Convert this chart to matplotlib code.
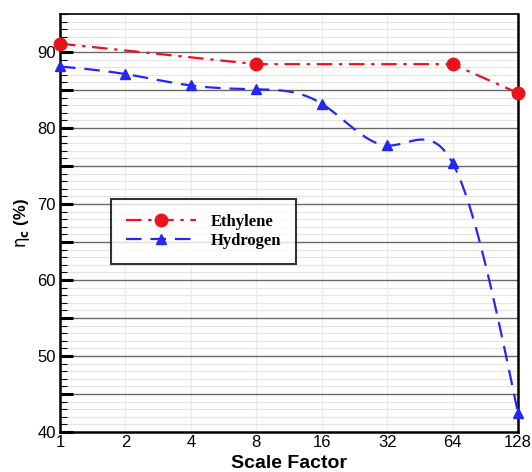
import numpy as np
import matplotlib
matplotlib.use("Agg")
import matplotlib.pyplot as plt
from matplotlib.ticker import FixedLocator, FuncFormatter, NullFormatter, NullLocator

# Scale factors and combustion efficiency (%)
scale_ticks = [1, 2, 4, 8, 16, 32, 64, 128]
ethylene_scale = [1, 8, 64, 128]
ethylene_eta = [91.1, 88.4, 88.4, 84.6]
hydrogen_scale = [1, 2, 4, 8, 16, 32, 64, 128]
hydrogen_eta = [88.1, 87.1, 85.6, 85.1, 83.2, 77.7, 75.4, 42.5]


def natural_spline(x, y, n=400):
    """Natural cubic spline through (x, y), evaluated on a fine grid."""
    x = np.asarray(x, float)
    y = np.asarray(y, float)
    m = len(x)
    h = np.diff(x)
    A = np.zeros((m, m))
    b = np.zeros(m)
    A[0, 0] = A[-1, -1] = 1.0
    for i in range(1, m - 1):
        A[i, i - 1] = h[i - 1]
        A[i, i] = 2 * (h[i - 1] + h[i])
        A[i, i + 1] = h[i]
        b[i] = 6 * ((y[i + 1] - y[i]) / h[i] - (y[i] - y[i - 1]) / h[i - 1])
    M = np.linalg.solve(A, b)
    xs = np.linspace(x[0], x[-1], n)
    idx = np.clip(np.searchsorted(x, xs) - 1, 0, m - 2)
    x0, x1 = x[idx], x[idx + 1]
    hh = x1 - x0
    a = (x1 - xs) / hh
    c = (xs - x0) / hh
    ys = (a * y[idx] + c * y[idx + 1]
          + ((a ** 3 - a) * M[idx] + (c ** 3 - c) * M[idx + 1]) * hh ** 2 / 6)
    return xs, ys


fig = plt.figure(figsize=(5.32, 4.72), dpi=100)
ax = fig.add_axes([0.1128, 0.0847, 0.8609, 0.8856])

red = "#e8141c"
blue = "#2626f5"

# Ethylene: straight dash-dot segments
ax.plot(ethylene_scale, ethylene_eta, color=red, lw=1.6,
        dashes=[7, 3, 1.5, 3], marker="o", ms=9, clip_on=False,
        zorder=5, label="Ethylene")

# Hydrogen: smooth curve through the points (spline in log2 space)
lx, ly = natural_spline(np.log2(hydrogen_scale), hydrogen_eta)
ax.plot(2 ** lx, ly, color=blue, lw=1.6, dashes=[7, 4], clip_on=False,
        zorder=4)
ax.plot(hydrogen_scale, hydrogen_eta, ls="none", color=blue, marker="^",
        ms=7, clip_on=False, zorder=5)
# legend proxy
ax.plot([], [], color=blue, lw=1.6, dashes=[7, 4], marker="^", ms=7,
        label="Hydrogen")

ax.set_xscale("log", base=2)
ax.set_xlim(1, 128)
ax.set_ylim(40, 95)

ax.xaxis.set_major_locator(FixedLocator(scale_ticks))
ax.set_xticklabels([str(s) for s in scale_ticks])
ax.xaxis.set_minor_locator(NullLocator())
ax.xaxis.set_minor_formatter(NullFormatter())

ax.yaxis.set_major_locator(FixedLocator(np.arange(40, 95, 5)))
ax.yaxis.set_major_formatter(
    FuncFormatter(lambda v, p: f"{v:.0f}" if round(v) % 10 == 0 else ""))
ax.yaxis.set_minor_locator(FixedLocator(np.arange(40, 96, 1)))

# grid: dark lines every 5, faint every 1, faint verticals
for yv in np.arange(45, 95, 5):
    ax.axhline(yv, color="#6a6a6a", lw=1.0, zorder=1)
for yv in np.arange(41, 95, 1):
    if yv % 5:
        ax.axhline(yv, color="#e4e4e4", lw=0.8, zorder=0)
for xv in scale_ticks[1:-1]:
    ax.axvline(xv, color="#ececec", lw=0.8, zorder=0)

ax.tick_params(axis="both", which="major", direction="in", length=0,
               labelsize=12, pad=3)
ax.tick_params(axis="y", which="major", length=9, width=2.2, left=True)
ax.tick_params(axis="y", which="minor", direction="in", length=5,
               width=0.8)
ax.tick_params(axis="x", which="major", pad=2)
for lbl in ax.get_xticklabels() + ax.get_yticklabels():
    lbl.set_family("Liberation Sans")

for s in ax.spines.values():
    s.set_linewidth(1.8)
    s.set_color("black")
ax.spines["top"].set_linewidth(1.2)

ax.set_xlabel("Scale Factor", fontsize=14, fontweight="bold",
              family="Liberation Sans", labelpad=4)
ax.set_ylabel(r"$\mathrm{\eta}_{\mathbf{c}}$ (%)", fontsize=12,
              fontweight="bold", family="Liberation Sans", labelpad=4)

leg = ax.legend(loc="upper left", bbox_to_anchor=(0.111, 0.557),
                borderaxespad=0, frameon=True, fancybox=False,
                handlelength=4.2, handletextpad=0.9, borderpad=0.9,
                labelspacing=0.15,
                prop={"family": "Liberation Serif", "weight": "bold",
                      "size": 12})
leg.get_frame().set_edgecolor("black")
leg.get_frame().set_linewidth(1.5)
leg.set_zorder(10)

fig.savefig("out.png", dpi=100)
